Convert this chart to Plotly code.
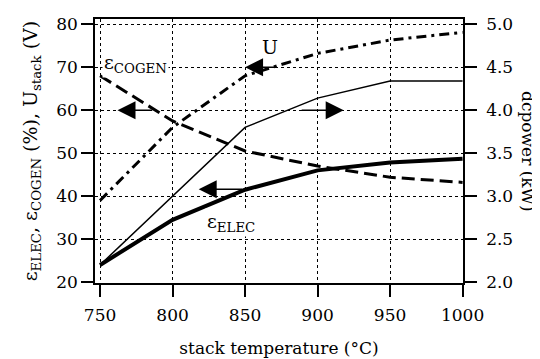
import plotly.graph_objects as go

# data
temps = [750, 800, 850, 900, 950, 1000]
eps_elec = [24.0, 34.5, 41.5, 46.0, 47.8, 48.7]
eps_cogen = [68.0, 57.5, 50.5, 47.0, 44.4, 43.2]
u_stack = [39.0, 56.0, 68.0, 73.2, 76.3, 78.1]
dc_power = [2.2, 3.0, 3.8, 4.14, 4.34, 4.34]

# ticks
x_major = [750, 800, 850, 900, 950, 1000]
x_minor = [v for v in range(750, 1001, 10) if v not in x_major]
y_major = [20, 30, 40, 50, 60, 70, 80]
y_minor = [v for v in range(20, 81, 2) if v not in y_major]
y2_major = [2.0, 2.5, 3.0, 3.5, 4.0, 4.5, 5.0]

FONT = "DejaVu Serif"
FS = 17

W, H = 532, 351
ML, MR, MT, MB = 87, 77, 11, 76
PW, PH = W - ML - MR, H - MT - MB

xmin, xmax = 746.5, 1000.3
ymin, ymax = 19.8, 81.2
y2min, y2max = 2 + (ymin - 20) / 20, 2 + (ymax - 20) / 20
dx = (xmax - xmin) / PW   # data units per pixel
dy = (ymax - ymin) / PH

fig = go.Figure()
fig.add_trace(go.Scatter(x=temps, y=eps_elec, mode="lines", line=dict(color="black", width=4), showlegend=False))
fig.add_trace(go.Scatter(x=temps, y=eps_cogen, mode="lines", line=dict(color="black", width=3, dash="13px,6px"), showlegend=False))
fig.add_trace(go.Scatter(x=temps, y=u_stack, mode="lines", line=dict(color="black", width=3, dash="10px,5px,3px,5px"), showlegend=False))
fig.add_trace(go.Scatter(x=temps, y=dc_power, mode="lines", line=dict(color="black", width=1.5), yaxis="y2", showlegend=False))


def tick_trace(xs, ys, sym, size, yaxis="y"):
    return go.Scatter(x=xs, y=ys, mode="markers", cliponaxis=False, yaxis=yaxis, hoverinfo="skip",
                      showlegend=False,
                      marker=dict(symbol=sym, size=size, color="black", line=dict(color="black", width=1.5)))

# tick marks drawn as open line markers just outside the frame
for L, vals in ((12, x_major), (7, x_minor)):
    fig.add_trace(tick_trace(vals, [ymin - (L / 2) * dy] * len(vals), "line-ns", L))
    fig.add_trace(tick_trace(vals, [ymax + (L / 2) * dy] * len(vals), "line-ns", L))
for L, vals in ((12, y_major), (7, y_minor)):
    fig.add_trace(tick_trace([xmin - (L / 2) * dx] * len(vals), vals, "line-ew", L))
fig.add_trace(tick_trace([xmax + 6 * dx] * len(y2_major), y2_major, "line-ew", 12, yaxis="y2"))

axis_common = dict(showline=True, linecolor="black", linewidth=1.5, ticks="outside",
                   tickcolor="black", tickwidth=1.5, ticklen=12, automargin=False,
                   showgrid=True, gridcolor="black", gridwidth=1, griddash="dot",
                   zeroline=False, tickfont=dict(family=FONT, size=FS, color="black"))

fig.update_layout(
    width=W, height=H, template="none",
    margin=dict(l=ML, r=MR, t=MT, b=MB),
    paper_bgcolor="white", plot_bgcolor="white",
    font=dict(family=FONT, size=FS, color="black"),
    xaxis=dict(**axis_common, range=[xmin, xmax], tickvals=x_major,
               mirror=True, ticklabelstandoff=4,
               title=dict(text="stack temperature (°C)", font=dict(family=FONT, size=FS), standoff=18)),
    yaxis=dict(**axis_common, range=[ymin, ymax], tickvals=y_major,
               title=dict(text="ε<sub>ELEC</sub>, ε<sub>COGEN</sub> (%), U<sub>stack</sub> (V)",
                          font=dict(family=FONT, size=19), standoff=14)),
    yaxis2=dict(showline=True, linecolor="black", linewidth=1.5, ticks="outside", tickcolor="black",
                tickwidth=1.5, ticklen=12, showgrid=False, zeroline=False, automargin=False,
                overlaying="y", side="right", ticklabelstandoff=6,
                range=[y2min, y2max],
                tickvals=y2_major, tickformat=".1f",
                tickfont=dict(family=FONT, size=FS, color="black")),
)

txt = dict(family=FONT, size=FS, color="black")
fig.add_annotation(x=867, y=74.8, xref="x", yref="y", text="U", showarrow=False, font=dict(family=FONT, size=19))
fig.add_annotation(x=751.5, y=70.8, xref="x", yref="y", text="ε<sub>COGEN</sub>", showarrow=False,
                   xanchor="left", font=dict(family=FONT, size=19), bgcolor="white")
fig.add_annotation(x=840, y=33.8, xref="x", yref="y", text="ε<sub>ELEC</sub>", showarrow=False,
                   font=dict(family=FONT, size=19), bgcolor="white")
fig.add_annotation(xref="paper", yref="paper", x=(520 - ML) / PW, y=0.5, xanchor="center", yanchor="middle",
                   text="dcpower (kW)", showarrow=False, textangle=90, font=txt)

arrows = [
    (850, 70, 873, 70),
    (762, 60, 787, 60),
    (918, 60, 888, 60),
    (818, 41.6, 849, 41.6),
]
for x, y, ax, ay in arrows:
    fig.add_annotation(x=x, y=y, ax=ax, ay=ay, xref="x", yref="y", axref="x", ayref="y",
                       text="", showarrow=True, arrowhead=2, arrowsize=2.4, arrowwidth=1.5,
                       arrowcolor="black")

fig.write_html("out.html")
